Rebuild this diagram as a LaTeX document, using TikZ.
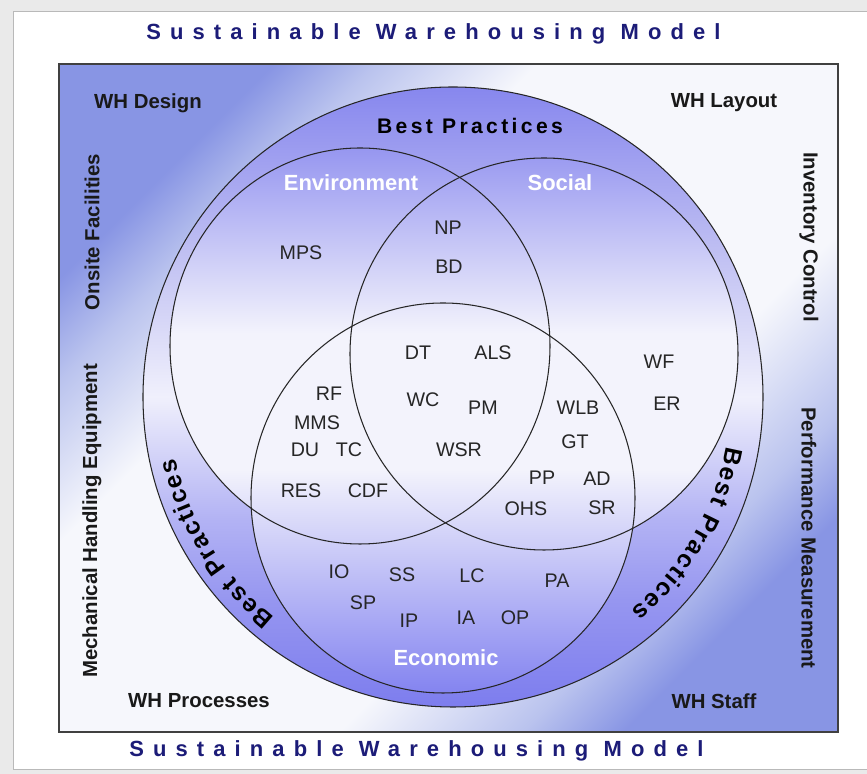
\documentclass[tikz,border=0pt]{standalone}
\usepackage{fontspec}
\setmainfont{Liberation Sans}
\usetikzlibrary{calc, decorations.text}

\definecolor{framegray}{RGB}{234,234,234}
\definecolor{titleblue}{RGB}{28,28,120}
\definecolor{boxblue}{RGB}{136,149,228}
\definecolor{boxmid}{RGB}{186,195,238}
\definecolor{boxpale}{RGB}{246,247,252}
\definecolor{ringtop}{RGB}{135,135,238}
\definecolor{ringhigh}{RGB}{190,190,242}
\definecolor{ringpale}{RGB}{240,240,252}
\definecolor{ringlow}{RGB}{178,178,244}
\definecolor{ringdeep}{RGB}{150,150,240}
\definecolor{ringbot}{RGB}{125,125,238}
\definecolor{innertop}{RGB}{150,150,240}
\definecolor{innerpale}{RGB}{243,243,252}
\definecolor{innerbot}{RGB}{132,132,240}

% gradients: background box (diagonal), outer ring and the three sets
\pgfdeclareverticalshading{boxshade}{100bp}{color(0bp)=(boxblue); color(25bp)=(boxblue);
  color(30bp)=(boxmid); color(39bp)=(boxpale); color(62bp)=(boxpale); color(70bp)=(boxmid);
  color(75bp)=(boxblue); color(100bp)=(boxblue)}
\pgfdeclareverticalshading{ringshade}{100bp}{color(0bp)=(ringbot); color(25bp)=(ringbot);
  color(33.6bp)=(ringdeep); color(40bp)=(ringlow); color(50bp)=(ringpale);
  color(62bp)=(ringhigh); color(75bp)=(ringtop); color(100bp)=(ringtop)}
\pgfdeclareverticalshading{innershade}{100bp}{color(0bp)=(innerbot); color(25bp)=(innerbot);
  color(45.5bp)=(innerpale); color(58bp)=(innerpale); color(75bp)=(innertop); color(100bp)=(innertop)}

\newcommand{\bpfont}{\fontsize{12}{14}\selectfont\bfseries}
\newcommand{\bparcfont}{\fontsize{14}{16}\selectfont\bfseries}

\tikzset{
  titlelbl/.style={font=\fontsize{12.5}{15}\selectfont\bfseries\addfontfeature{LetterSpace=41.5},
    text=titleblue,inner sep=0pt,anchor=west},
  cornerlbl/.style={font=\fontsize{11.6}{14}\selectfont\bfseries,text=black!90},
  sidelbl/.style={font=\fontsize{11.6}{14}\selectfont\bfseries,text=black!90},
  setlbl/.style={font=\fontsize{12.5}{15}\selectfont\bfseries,text=white},
  abbr/.style={font=\fontsize{11.2}{13}\selectfont,text=black!85},
  circline/.style={draw=black!85,line width=0.6pt},
  bestpract/.style={decorate,decoration={text along path,text align=fit to path,
    text={|\bparcfont|Best Practices}}}
}

\begin{document}
\begin{tikzpicture}[x=0.02cm,y=0.02cm]
  \useasboundingbox (0,0) rectangle (867,774);

  % Page frame
  \fill[framegray] (0,0) rectangle (867,774);
  \draw[fill=white,draw=gray!55] (13,5) rectangle (875,763);

  % Titles
  \node[titlelbl] (toptitle) at (146,740) {Sustainable Warehousing Model};
  \node[titlelbl] (bottitle) at (129,23) {Sustainable Warehousing Model};

  % Background box
  \coordinate (boxsw) at (59,42);
  \coordinate (boxne) at (838,710);
  \shade[shading=boxshade,shading angle=45] (boxsw) rectangle (boxne);
  \draw[black!75,line width=0.7pt] (boxsw) rectangle (boxne);

  % Circles: best practices ring, environment, social, economic
  \coordinate (outer) at (453,377);
  \coordinate (env) at (360,428);
  \coordinate (soc) at (544,420);
  \coordinate (eco) at (443,276);
  \shade[shading=ringshade] (outer) circle[radius=310];
  \shade[shading=innershade] (env) ellipse[x radius=190,y radius=198]
    (soc) ellipse[x radius=194,y radius=196] (eco) ellipse[x radius=192,y radius=195];
  \draw[circline] (outer) circle[radius=310];
  \draw[circline] (env) ellipse[x radius=190,y radius=198];
  \draw[circline] (soc) ellipse[x radius=194,y radius=196];
  \draw[circline] (eco) ellipse[x radius=192,y radius=195];

  % Corner labels
  \node[cornerlbl] (design) at (148,671) {WH Design};
  \node[cornerlbl] (layout) at (724,671) {WH Layout};
  \node[cornerlbl] (processes) at (199,73) {WH Processes};
  \node[cornerlbl] (staff) at (714,73) {WH Staff};

  % Side labels
  \node[sidelbl,rotate=90] (onsite) at (92,542) {Onsite Facilities};
  \node[sidelbl,rotate=90] (mhe) at (92,253) {Mechanical Handling Equipment};
  \node[sidelbl,rotate=-90] (invctrl) at (809,537) {Inventory Control};
  \node[sidelbl,rotate=-90] (perfmeas) at (809,236) {Performance Measurement};

  % Best practices along the ring
  \node[font=\bpfont\addfontfeature{LetterSpace=16}] (bptop) at (470,648) {Best Practices};
  \path[bestpract] ($(outer)+(231:284)$) arc[start angle=231,end angle=192.5,radius=284];
  \path[bestpract] ($(outer)+(-10.2:278)$) arc[start angle=-10.2,end angle=-50.2,radius=278];

  % Set names
  \node[setlbl] (envlbl) at (351,591) {Environment};
  \node[setlbl] (soclbl) at (560,591) {Social};
  \node[setlbl] (ecolbl) at (446,116) {Economic};

  % Practices inside the sets
  \foreach \x/\y/\lbl in {
    301/521/MPS, 448/546/NP, 449/507/BD,
    418/421/DT, 493/421/ALS, 423/374/WC, 483/366/PM, 459/324/WSR,
    329/380/RF, 317/351/MMS, 305/324/DU, 349/324/TC, 301/283/RES, 368/283/CDF,
    659/412/WF, 667/370/ER, 578/366/WLB, 575/332/GT,
    542/296/PP, 597/295/AD, 526/265/OHS, 602/266/SR,
    339/202/IO, 402/199/SS, 472/198/LC, 557/193/PA,
    363/171/SP, 409/153/IP, 466/156/IA, 515/156/OP
  }{
    \node[abbr] (\lbl) at (\x,\y) {\lbl};
  }

\end{tikzpicture}
\end{document}
